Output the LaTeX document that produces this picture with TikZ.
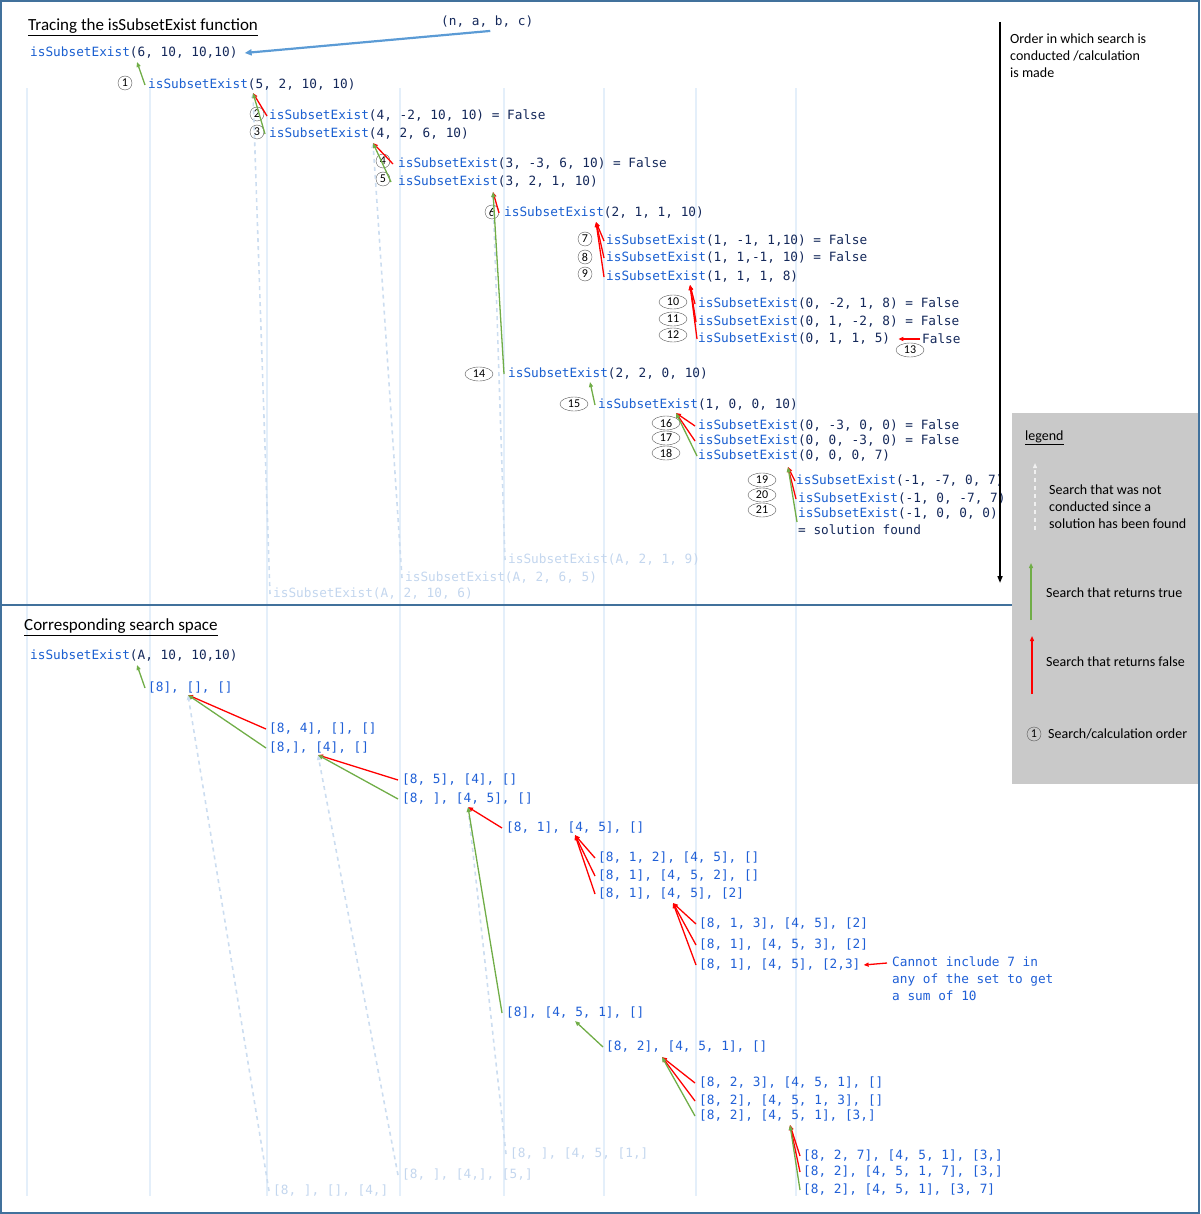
\documentclass[tikz,border=0pt]{standalone}
\usepackage{fontspec}
\setmainfont{Carlito}
\setmonofont{DejaVu Sans Mono}
\usetikzlibrary{arrows.meta,shapes.geometric}

\definecolor{fnblue}{HTML}{1A5FD0}
\definecolor{argnavy}{HTML}{14285A}
\definecolor{listblue}{HTML}{1F5FD6}
\definecolor{ghostblue}{HTML}{C3D6EE}
\definecolor{colline}{HTML}{E4EFFA}
\definecolor{skipblue}{HTML}{CCDDF0}
\definecolor{tgreen}{HTML}{70AD47}
\definecolor{fred}{HTML}{FF0000}
\definecolor{namearrow}{HTML}{5B9BD5}
\definecolor{framecol}{HTML}{41719C}
\definecolor{legendgray}{HTML}{C9C9C9}
\definecolor{ordgray}{HTML}{555555}

\newcommand{\codesize}{\fontsize{12.75}{15}\selectfont}
\newcommand{\callfn}[1]{\textcolor{fnblue}{isSubsetExist}(#1)}

\tikzset{
	call/.style={anchor=west, inner sep=0pt, yshift=-2pt, font=\ttfamily\codesize, text=argnavy},
	list/.style={call, text=listblue},
	ghost/.style={call, text=ghostblue},
	remark/.style={anchor=west, inner sep=0pt, align=left, font=\fontsize{14}{17}\selectfont},
	ordc/.style={circle, draw=ordgray, inner sep=0pt, minimum size=14pt, font=\fontsize{12}{12}\selectfont},
	orde/.style={ellipse, draw=ordgray, inner sep=0pt, minimum width=28pt, minimum height=14pt, font=\fontsize{12}{12}\selectfont},
	tip/.style={-{Triangle[length=5pt,width=4pt]}},
	truearr/.style={tip, draw=tgreen, line width=1.3pt},
	falsearr/.style={tip, draw=fred, line width=1.3pt},
	skiparr/.style={tip, draw=skipblue, line width=1.6pt, dash pattern=on 4pt off 4pt}
}

\begin{document}
\begin{tikzpicture}[x=1pt,y=-1pt]
	\useasboundingbox (0,0) rectangle (1200,1214);
	% columns
	\foreach \x in {27,150,267,400,504,604,696,796}
		\draw[colline, line width=1.3pt] (\x,88) -- (\x,1196);
	\draw[framecol, line width=2pt] (1,1) rectangle (1199,1213);
	\draw[framecol, line width=2pt] (0,605) -- (1012,605);

	% tracing
	\node[anchor=west, inner sep=0pt, font=\fontsize{17}{20}\selectfont] (title1) at (28,27) {\underline{Tracing the isSubsetExist function}};
	\node[call] (nabc) at (441,20) {(n, a, b, c)};
	\node[call] (c0) at (30,51) {\callfn{6, 10, 10,10}};
	\draw[namearrow, line width=2.2pt, -{Triangle[length=7pt,width=6pt]}] ([xshift=3pt,yshift=-3pt]nabc.south) -- ([xshift=7pt]c0.east);

	\node[call] (c1) at (148,83) {\callfn{5, 2, 10, 10}};
	\node[call] (c2) at (269,114) {\callfn{4, -2, 10, 10} = False};
	\node[call] (c3) at (269,132) {\callfn{4, 2, 6, 10}};
	\node[call] (c4) at (398,162) {\callfn{3, -3, 6, 10} = False};
	\node[call] (c5) at (398,180) {\callfn{3, 2, 1, 10}};
	\node[call] (c6) at (504,211) {\callfn{2, 1, 1, 10}};
	\node[call] (c7) at (606,239) {\callfn{1, -1, 1,10} = False};
	\node[call] (c8) at (606,256) {\callfn{1, 1,-1, 10} = False};
	\node[call] (c9) at (606,275) {\callfn{1, 1, 1, 8}};
	\node[call] (c10) at (698,302) {\callfn{0, -2, 1, 8} = False};
	\node[call] (c11) at (698,320) {\callfn{0, 1, -2, 8} = False};
	\node[call] (c12) at (698,337) {\callfn{0, 1, 1, 5}};
	\node[call] (c13) at (922,337) {False};
	\node[call] (c14) at (508,372) {\callfn{2, 2, 0, 10}};
	\node[call] (c15) at (598,403) {\callfn{1, 0, 0, 10}};
	\node[call] (c16) at (698,424) {\callfn{0, -3, 0, 0} = False};
	\node[call] (c17) at (698,439) {\callfn{0, 0, -3, 0} = False};
	\node[call] (c18) at (698,454) {\callfn{0, 0, 0, 7}};
	\node[call] (c19) at (796,479) {\callfn{-1, -7, 0, 7}};
	\node[call] (c20) at (798,497) {\callfn{-1, 0, -7, 7}};
	\node[call] (c21) at (798,512) {\callfn{-1, 0, 0, 0}};
	\node[call] (sol) at (798,528) {= solution found};
	\node[ghost] (f1) at (508,558) {isSubsetExist(A, 2, 1, 9)};
	\node[ghost] (f2) at (405,576) {isSubsetExist(A, 2, 6, 5)};
	\node[ghost] (f3) at (273,592) {isSubsetExist(A, 2, 10, 6)};

	\node[ordc] (o1) at (125,83) {1};
	\node[ordc] (o2) at (257,114) {2};
	\node[ordc] (o3) at (257,132) {3};
	\node[ordc] (o4) at (383,161) {4};
	\node[ordc] (o5) at (383,179) {5};
	\node[ordc] (o6) at (492,212) {6};
	\node[ordc] (o7) at (585,239) {7};
	\node[ordc] (o8) at (585,257) {8};
	\node[ordc] (o9) at (585,274) {9};
	\node[orde] (o10) at (673,302) {10};
	\node[orde] (o11) at (673,319) {11};
	\node[orde] (o12) at (673,335) {12};
	\node[orde] (o13) at (910,350) {13};
	\node[orde] (o14) at (479,374) {14};
	\node[orde] (o15) at (574,404) {15};
	\node[orde] (o16) at (666,423) {16};
	\node[orde] (o17) at (666,438) {17};
	\node[orde] (o18) at (666,453) {18};
	\node[orde] (o19) at (762,480) {19};
	\node[orde] (o20) at (762,495) {20};
	\node[orde] (o21) at (762,510) {21};

	\coordinate (c0tip) at (137,62);
	\coordinate (c1tip) at (253,93);
	\coordinate (c3tip) at (373,143);
	\coordinate (c5tip) at (493,192);
	\coordinate (c6tip) at (596,222);
	\coordinate (c9tip) at (690,285);
	\coordinate (c14tip) at (590,382);
	\coordinate (c15tip) at (676,413);
	\coordinate (c18tip) at (788,467);

	\draw[skiparr] ([xshift=-3pt]f3.west) -- (c1tip);
	\draw[skiparr] ([xshift=-3pt]f2.west) -- (c3tip);
	\draw[skiparr] ([xshift=-3pt]f1.west) -- (c5tip);
	\draw[truearr] ([xshift=-3pt]c1.west) -- (c0tip);
	\draw[falsearr] ([xshift=-2pt]c2.west) -- (c1tip);
	\draw[truearr] ([xshift=-4pt]c3.west) -- (c1tip);
	\draw[falsearr] ([xshift=-5pt]c4.west) -- (c3tip);
	\draw[truearr] ([xshift=-7pt]c5.west) -- (c3tip);
	\draw[falsearr] ([xshift=-5pt]c6.west) -- (c5tip);
	\draw[truearr] ([xshift=-4pt]c14.west) -- (c5tip);
	\draw[falsearr] ([xshift=-2pt]c7.west) -- (c6tip);
	\draw[falsearr] ([xshift=-2pt]c8.west) -- (c6tip);
	\draw[falsearr] ([xshift=-2pt]c9.west) -- (c6tip);
	\draw[falsearr] ([xshift=-3pt]c10.west) -- (c9tip);
	\draw[falsearr] ([xshift=-2pt]c11.west) -- (c9tip);
	\draw[falsearr] ([xshift=-1pt]c12.west) -- (c9tip);
	\draw[falsearr] ([xshift=-2pt]c13.west) -- ([xshift=8pt]c12.east);
	\draw[truearr] ([xshift=-3pt]c15.west) -- (c14tip);
	\draw[falsearr] ([xshift=-3pt]c16.west) -- (c15tip);
	\draw[falsearr] ([xshift=-3pt]c17.west) -- (c15tip);
	\draw[truearr] ([xshift=-1pt]c18.west) -- (c15tip);
	\draw[falsearr] ([xshift=-1pt]c19.west) -- (c18tip);
	\draw[falsearr] ([xshift=-2pt]c20.west) -- (c18tip);
	\draw[truearr] ([xshift=-1pt,yshift=-8pt]c21.west) -- (c18tip);

	% order of search
	\coordinate (ordtop) at (1000,22);
	\coordinate (ordbot) at (1000,583);
	\draw[line width=1.5pt, -{Triangle[length=7pt,width=5pt]}] (ordtop) -- (ordbot);
	\node[remark] (ordtext) at (1010,56) {Order in which search is\\conducted /calculation\\is made};

	% search space
	\node[anchor=west, inner sep=0pt, font=\fontsize{17}{20}\selectfont] (title2) at (24,627) {\underline{Corresponding search space}};
	\node[call] (s0) at (30,654) {\callfn{A, 10, 10,10}};
	\node[list] (s1) at (148,686) {[8], [], []};
	\node[list] (s2) at (269,727) {[8, 4], [], []};
	\node[list] (s3) at (269,746) {[8,], [4], []};
	\node[list] (s4) at (402,778) {[8, 5], [4], []};
	\node[list] (s5) at (402,797) {[8, ], [4, 5], []};
	\node[list] (s6) at (506,826) {[8, 1], [4, 5], []};
	\node[list] (s7) at (598,856) {[8, 1, 2], [4, 5], []};
	\node[list] (s8) at (598,874) {[8, 1], [4, 5, 2], []};
	\node[list] (s9) at (598,892) {[8, 1], [4, 5], [2]};
	\node[list] (s10) at (699,922) {[8, 1, 3], [4, 5], [2]};
	\node[list] (s11) at (699,943) {[8, 1], [4, 5, 3], [2]};
	\node[list] (s12) at (699,963) {[8, 1], [4, 5], [2,3]};
	\node[list, anchor=north west, align=left, font=\ttfamily\fontsize{12.75}{17}\selectfont] (note) at (892,955) {Cannot include 7 in\\any of the set to get\\a sum of 10};
	\node[list] (s14) at (506,1011) {[8], [4, 5, 1], []};
	\node[list] (s15) at (606,1045) {[8, 2], [4, 5, 1], []};
	\node[list] (s16) at (699,1081) {[8, 2, 3], [4, 5, 1], []};
	\node[list] (s17) at (699,1099) {[8, 2], [4, 5, 1, 3], []};
	\node[list] (s18) at (699,1114) {[8, 2], [4, 5, 1], [3,]};
	\node[list] (s19) at (803,1154) {[8, 2, 7], [4, 5, 1], [3,]};
	\node[list] (s20) at (803,1170) {[8, 2], [4, 5, 1, 7], [3,]};
	\node[list] (s21) at (803,1188) {[8, 2], [4, 5, 1], [3, 7]};
	\node[ghost] (sf1) at (510,1152) {[8, ], [4, 5, [1,]};
	\node[ghost] (sf2) at (402,1173) {[8, ], [4,], [5,]};
	\node[ghost] (sf3) at (273,1189) {[8, ], [], [4,]};

	\coordinate (s0tip) at (137,665);
	\coordinate (s1tip) at (188,695);
	\coordinate (s3tip) at (318,755);
	\coordinate (s5tip) at (468,807);
	\coordinate (s6tip) at (575,835);
	\coordinate (s9tip) at (673,903);
	\coordinate (s14tip) at (575,1021);
	\coordinate (s15tip) at (662,1057);
	\coordinate (s18tip) at (790,1125);
	\coordinate (notetail) at (887,963);

	\draw[skiparr] ([xshift=-4pt]sf3.west) -- (s1tip);
	\draw[skiparr] ([xshift=-4pt]sf2.west) -- (s3tip);
	\draw[skiparr] ([xshift=-4pt]sf1.west) -- (s5tip);
	\draw[truearr] ([xshift=-3pt]s1.west) -- (s0tip);
	\draw[falsearr] ([xshift=-3pt]s2.west) -- (s1tip);
	\draw[truearr] ([xshift=-3pt]s3.west) -- (s1tip);
	\draw[falsearr] ([xshift=-4pt]s4.west) -- (s3tip);
	\draw[truearr] ([xshift=-4pt]s5.west) -- (s3tip);
	\draw[falsearr] ([xshift=-4pt]s6.west) -- (s5tip);
	\draw[truearr] ([xshift=-4pt]s14.west) -- (s5tip);
	\draw[falsearr] ([xshift=-3pt]s7.west) -- (s6tip);
	\draw[falsearr] ([xshift=-3pt]s8.west) -- (s6tip);
	\draw[falsearr] ([xshift=-3pt]s9.west) -- (s6tip);
	\draw[falsearr] ([xshift=-3pt]s10.west) -- (s9tip);
	\draw[falsearr] ([xshift=-3pt]s11.west) -- (s9tip);
	\draw[falsearr] ([xshift=-3pt]s12.west) -- (s9tip);
	\draw[falsearr] (notetail) -- ([xshift=3pt]s12.east);
	\draw[truearr] ([xshift=-3pt]s15.west) -- (s14tip);
	\draw[falsearr] ([xshift=-4pt]s16.west) -- (s15tip);
	\draw[falsearr] ([xshift=-4pt]s17.west) -- (s15tip);
	\draw[truearr] ([xshift=-4pt]s18.west) -- (s15tip);
	\draw[falsearr] ([xshift=-3pt]s19.west) -- (s18tip);
	\draw[falsearr] ([xshift=-3pt]s20.west) -- (s18tip);
	\draw[truearr] ([xshift=-3pt]s21.west) -- (s18tip);

	% legend
	\fill[legendgray] (1012,413) rectangle (1198,784);
	\node[remark, font=\fontsize{14}{17}\selectfont] (legtitle) at (1025,438) {\underline{legend}};
	\coordinate (lgskipa) at (1035,530);
	\coordinate (lgskipb) at (1035,463);
	\coordinate (lgtruea) at (1031,620);
	\coordinate (lgtrueb) at (1031,563);
	\coordinate (lgfalsea) at (1032,694);
	\coordinate (lgfalseb) at (1032,636);
	\draw[skiparr, draw=white!94!black] (lgskipa) -- (lgskipb);
	\draw[truearr] (lgtruea) -- (lgtrueb);
	\draw[falsearr] (lgfalsea) -- (lgfalseb);
	\node[remark] (lgskip) at (1049,507) {Search that was not\\conducted since a\\solution has been found};
	\node[remark] (lgtrue) at (1046,593) {Search that returns true};
	\node[remark] (lgfalse) at (1046,662) {Search that returns false};
	\node[ordc] (lgord) at (1034,734) {1};
	\node[remark] (lgordtext) at (1048,734) {Search/calculation order};
\end{tikzpicture}
\end{document}
